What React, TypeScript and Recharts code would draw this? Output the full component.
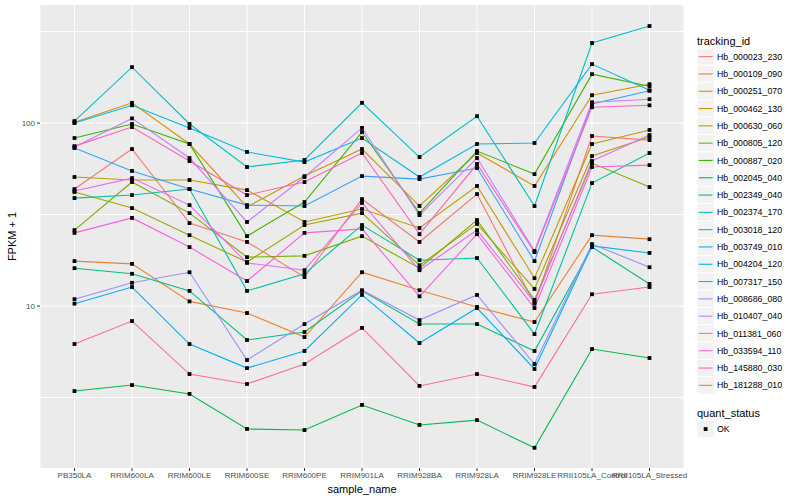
import React from 'react';
import { LineChart, Line, XAxis, YAxis, CartesianGrid } from 'recharts';

const categories = [
  'PB350LA', 'RRIM600LA', 'RRIM600LE', 'RRIM600SE', 'RRIM600PE', 'RRIM901LA',
  'RRIM928BA', 'RRIM928LA', 'RRIM928LE', 'RRII105LA_Control', 'RRII105LA_Stressed',
];

const hb_000023_230 = [43.6, 72.1, 28.4, 22.4, 14.4, 38.4, 22.4, 40.9, 10.3, 84.9, 80.7];
const hb_000109_090 = [17.6, 17.0, 10.6, 9.16, 6.77, 15.3, 12.2, 9.88, 8.18, 24.4, 23.2];
const hb_000251_070 = [101, 129, 76.8, 34.8, 51.3, 72.1, 35.2, 68.6, 45.3, 142, 163];
const hb_000462_130 = [50.7, 48.8, 48.8, 43.0, 28.8, 33.9, 26.7, 45.3, 14.2, 76.8, 91.6];
const hb_000630_060 = [42.0, 34.3, 24.4, 17.4, 27.7, 32.2, 16.7, 28.1, 12.4, 66.0, 83.8];
const hb_000805_120 = [26.0, 47.6, 32.2, 18.5, 18.8, 24.1, 16.1, 29.5, 10.8, 60.4, 44.7];
const hb_000887_020 = [82.8, 98.8, 76.8, 24.1, 37.0, 89.3, 32.2, 70.3, 52.6, 185, 159];
const hb_002045_040 = [3.43, 3.70, 3.31, 2.13, 2.10, 2.88, 2.24, 2.38, 1.68, 5.82, 5.20];
const hb_002349_040 = [16.1, 15.0, 12.1, 6.52, 7.21, 12.1, 7.97, 7.97, 5.68, 21.0, 13.2];
const hb_002374_170 = [38.9, 40.4, 43.6, 12.1, 15.0, 27.7, 17.8, 18.3, 7.03, 47.0, 68.6];
const hb_003018_120 = [102.5, 202, 98.8, 57.5, 62.8, 129, 65.2, 109, 35.2, 273.6, 339];
const hb_003749_010 = [100, 125, 94, 69.5, 61.2, 82.8, 50.7, 76.8, 77.8, 210, 151];
const hb_004204_120 = [10.3, 12.7, 6.2, 4.58, 5.68, 11.5, 6.28, 9.75, 4.53, 21.3, 19.5];
const hb_007317_150 = [73, 54.7, 43.6, 35.6, 35.2, 51.3, 49.4, 56.8, 17.6, 127, 150];
const hb_008686_080 = [10.9, 13.4, 15.3, 5.07, 7.97, 12.2, 8.38, 11.5, 4.82, 21.8, 16.3];
const hb_010407_040 = [73.9, 106, 64.4, 28.8, 50.7, 94, 31.4, 64.4, 20.0, 130, 135];
const hb_011381_060 = [42.5, 50.0, 35.6, 17.2, 15.7, 36.6, 15.7, 26.0, 10.5, 62.0, 86];
const hb_033594_110 = [25.1, 30.3, 21.0, 13.7, 25.1, 26.4, 11.3, 24.7, 9.75, 57.5, 58.9];
const hb_145880_030 = [74.8, 95.1, 62.0, 40.4, 47.6, 68.6, 24.7, 59.7, 19.7, 122, 125];
const hb_181288_010 = [6.2, 8.28, 4.25, 3.75, 4.82, 7.59, 3.66, 4.25, 3.61, 11.6, 12.7];

const trackingIds = [
  'Hb_000023_230', 'Hb_000109_090', 'Hb_000251_070', 'Hb_000462_130', 'Hb_000630_060',
  'Hb_000805_120', 'Hb_000887_020', 'Hb_002045_040', 'Hb_002349_040', 'Hb_002374_170',
  'Hb_003018_120', 'Hb_003749_010', 'Hb_004204_120', 'Hb_007317_150', 'Hb_008686_080',
  'Hb_010407_040', 'Hb_011381_060', 'Hb_033594_110', 'Hb_145880_030', 'Hb_181288_010',
];
const seriesValues = [
  hb_000023_230, hb_000109_090, hb_000251_070, hb_000462_130, hb_000630_060,
  hb_000805_120, hb_000887_020, hb_002045_040, hb_002349_040, hb_002374_170,
  hb_003018_120, hb_003749_010, hb_004204_120, hb_007317_150, hb_008686_080,
  hb_010407_040, hb_011381_060, hb_033594_110, hb_145880_030, hb_181288_010,
];
const colors = [
  '#F8766D', '#EA8331', '#D89000', '#C09B00', '#A3A500', '#7CAE00', '#39B600', '#00BB4E',
  '#00BF7D', '#00C1A3', '#00BFC4', '#00BAE0', '#00B0F6', '#35A2FF', '#9590FF', '#C77CFF',
  '#E76BF3', '#FA62DB', '#FF62BC', '#FF6C91',
];
const yTicks = [10, 100];
const gridValues = [3.1623, 10, 31.623, 100, 316.23];
const yDomain = [1.303, 441.6];

const rows = categories.map((c, i) => {
  const r: any = { sample_name: c };
  trackingIds.forEach((id, k) => { r[id] = seriesValues[k][i]; });
  return r;
});

const FONT = '"Liberation Sans", Arial, Helvetica, sans-serif';

const SquareDot = (props: any) => {
  const { cx, cy, index, dataKey } = props;
  if (cx == null || cy == null) return <g key={`${dataKey}-${index}`} />;
  return <rect key={`${dataKey}-${index}`} x={cx - 1.9} y={cy - 1.9} width={3.8} height={3.8} fill="#000" />;
};

const Legend = () => {
  const x0 = 697;
  const y0 = 48;
  const step = 17.3;
  return (
    <svg width={800} height={500} style={{ position: 'absolute', left: 0, top: 0, pointerEvents: 'none' }}>
      <text x={x0} y={40.7} dy="0.35em" fontSize={11} fontFamily={FONT} fill="#000">tracking_id</text>
      {trackingIds.map((id, i) => (
        <g key={id}>
          <rect x={x0} y={y0 + i * step} width={17.3} height={17.3} fill="#F2F2F2" stroke="#FFFFFF" strokeWidth={1} />
          <line x1={x0 + 1.7} x2={x0 + 15.6} y1={y0 + i * step + 8.65} y2={y0 + i * step + 8.65} stroke={colors[i]} strokeWidth={1.1} />
          <text x={717} y={y0 + i * step + 8.65} dy="0.35em" fontSize={8.8} fontFamily={FONT} fill="#000">{id}</text>
        </g>
      ))}
      <text x={x0} y={412.7} dy="0.35em" fontSize={11} fontFamily={FONT} fill="#000">quant_status</text>
      <rect x={x0} y={420.4} width={17.3} height={17.3} fill="#F2F2F2" stroke="#FFFFFF" strokeWidth={1} />
      <rect x={x0 + 8.65 - 1.9} y={429.05 - 1.9} width={3.8} height={3.8} fill="#000" />
      <text x={717} y={429.05} dy="0.35em" fontSize={8.8} fontFamily={FONT} fill="#000">OK</text>
    </svg>
  );
};

export default function App() {
  return (
    <div style={{ position: 'absolute', left: 0, top: 0, width: 800, height: 500, background: '#fff' }}>
      <LineChart width={800} height={500} data={rows} margin={{ top: 5, right: 116, bottom: 0, left: 0 }}>
        <CartesianGrid fill="#EBEBEB" stroke="#FFFFFF" strokeWidth={1} horizontalValues={gridValues} />
        <XAxis
          dataKey="sample_name"
          type="category"
          interval={0}
          height={32}
          padding={{ left: 34.5, right: 34.5 }}
          axisLine={false}
          tickLine={{ stroke: '#333333' }}
          tickSize={3}
          tickMargin={1}
          tick={{ fill: '#4D4D4D', fontSize: 8, fontFamily: FONT }}
          label={{ value: 'sample_name', position: 'insideBottom', offset: 7, fill: '#000', fontSize: 11, fontFamily: FONT }}
        />
        <YAxis
          scale="log"
          domain={yDomain}
          allowDataOverflow
          ticks={yTicks}
          width={40}
          axisLine={false}
          tickLine={{ stroke: '#333333' }}
          tickSize={3}
          tickMargin={2}
          tick={{ fill: '#4D4D4D', fontSize: 8, fontFamily: FONT }}
          label={{ value: 'FPKM + 1', angle: -90, position: 'insideLeft', offset: 12, fill: '#000', fontSize: 11, fontFamily: FONT, style: { textAnchor: 'middle' } }}
        />
        {trackingIds.map((id, k) => (
          <Line key={id} dataKey={id} type="linear" stroke={colors[k]} strokeWidth={1.1} dot={false} activeDot={false} isAnimationActive={false} />
        ))}
        {trackingIds.map((id) => (
          <Line key={`${id}-pts`} dataKey={id} type="linear" stroke="none" dot={SquareDot} activeDot={false} isAnimationActive={false} legendType="none" />
        ))}
      </LineChart>
      <Legend />
    </div>
  );
}
